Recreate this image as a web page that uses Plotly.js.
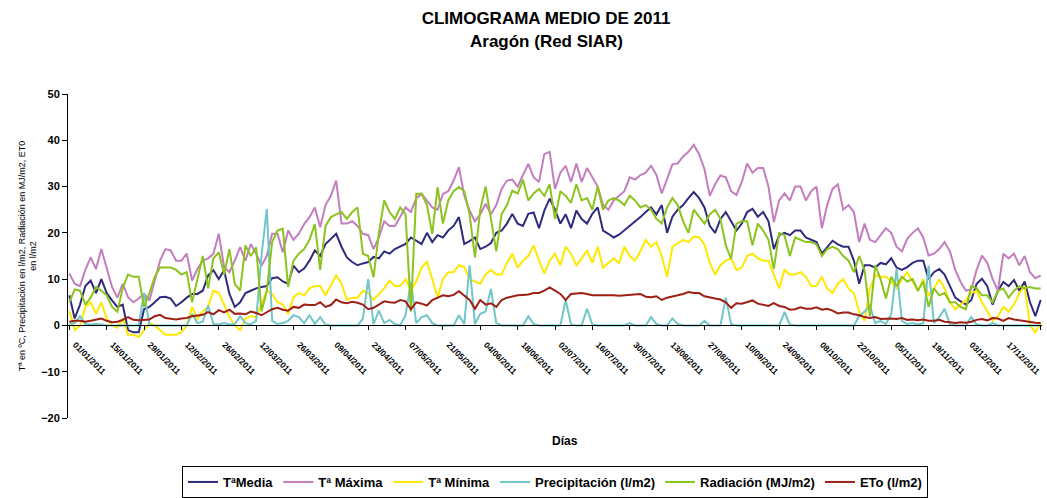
<!DOCTYPE html>
<html>
<head>
<meta charset="utf-8">
<script src="https://cdn.plot.ly/plotly-3.0.1.min.js"></script>
<style>
  html, body { margin: 0; padding: 0; background: #fff; }
  #chart { width: 1047px; height: 498px; }
</style>
</head>
<body>
<div id="chart"></div>
<script>
// valores medios de la red SIAR, uno cada 2 días desde el 01/01/2011
const tMedia = [
  6.5, 1.5, 4.5, 8.5, 9.7, 7, 10, 7, 5.4, 4,
  4.5, -1, -1.5, -1.5, 3.5, 4, 5, 6.1, 6.2, 5.8,
  4.2, 5, 6, 6.8, 6.8, 7.5, 10.8, 11.9, 10, 11.9,
  6.8, 4, 5, 7, 7.5, 8, 8.3, 8.5, 10.2, 10.4,
  9.5, 9, 12.9, 11.5, 12.3, 14, 16.2, 15, 17.6, 18.7,
  19.8, 17, 14.7, 13.7, 13, 13.4, 13.7, 14.8, 14.5, 16,
  15.5, 16.5, 17, 17.6, 19, 18.3, 17.6, 20, 18, 19.5,
  19, 20.5, 21.5, 23.4, 17.6, 18.2, 19, 16.5, 17, 17.8,
  20, 20.5, 22, 24.1, 22, 21.5, 24.1, 24.4, 21, 24.8,
  27.4, 25, 22, 24, 21, 24.8, 23, 22, 24.1, 25.5,
  20.5, 19.8, 19, 19.6, 20.5, 21.4, 22.5, 23.4, 24.5, 25.5,
  24, 26, 20, 23.5, 25, 26, 27.5, 28.8, 27.5, 25.5,
  21.5, 20, 23, 24.5, 22.5, 20.5, 22, 24.5, 25.2, 23.5,
  24.5, 22.5, 16.5, 19.5, 20, 19.5, 20.5, 20.5, 19, 18.5,
  18, 15.5, 17, 18.3, 17.5, 17, 17, 14, 9, 13,
  13, 12.5, 13.5, 13.2, 14.5, 12.5, 12, 12.6, 13.5, 14,
  14, 10, 11.5, 12.2, 11, 8.5, 6, 5.2, 4.5, 5.5,
  9, 10.1, 8.5, 4.5, 7.5, 9.4, 8.5, 9.8, 7.5, 9.5,
  5, 2, 5.5
];
const tMaxima = [
  11.2, 9, 8.5, 12, 14.7, 12.2, 16.5, 12.6, 8.3, 6,
  9, 6.1, 5, 5.8, 6.8, 5.4, 9.7, 14, 16.5, 16.2,
  14, 14, 15.5, 9.7, 12.2, 14, 14.5, 15.5, 19.8, 12.6,
  11.5, 14, 16.9, 14, 17.6, 15.5, 12.9, 15, 19.8, 19.8,
  15.8, 20.5, 18.5, 19.8, 21.9, 23.4, 25.5, 21.2, 26, 28,
  31.3, 22, 22, 22.5, 21.5, 19.8, 19.5, 16.5, 19, 22.5,
  21.5, 21.5, 23.5, 25.5, 24.5, 27.5, 28.4, 27, 25.5, 25,
  28.4, 29, 31.3, 34.2, 28, 24.8, 22.5, 24, 26.3, 24,
  26, 29.5, 31.3, 31.5, 30, 32.5, 34.9, 32, 31, 37,
  37.5, 29.5, 33, 34.5, 31, 35, 31, 34, 32, 30,
  26, 25, 27, 28, 29, 32, 31.5, 32.5, 33, 34.5,
  32.5, 28.5, 31.5, 34.8, 35, 36.5, 37.5, 39, 37, 33.8,
  28, 30.5, 32.4, 32, 29, 28.2, 31, 35, 33, 34,
  34, 30, 22.3, 27, 28.5, 27, 30, 30, 27, 29,
  30, 21, 26, 29.5, 30.5, 25, 26, 24.5, 18, 22,
  18.5, 18, 19.5, 21, 20, 17, 16, 18.7, 20, 21,
  19, 15.1, 15.5, 16.5, 18, 16, 12, 9.4, 7.5, 7.8,
  12, 15.1, 13.5, 10, 7.5, 15.5, 14.5, 15.5, 13, 15,
  11.5, 10.2, 10.8
];
const tMinima = [
  3.2, -1, 0, 4, 5, 2.5, 5, 1.5, 0, -0.5,
  1.5, -2, -2, -2.5, -1, 0.5, 0, -1, -2, -2,
  -2, -1.5, 0, 4, 1.5, 3, 4, 7.5, 7, 4.5,
  1.8, 0, -1, 1.5, 2, 1.8, 4.5, 7.5, 6.8, 5,
  4.5, 2.5, 6.1, 7, 6.5, 8, 8.5, 8.5, 6.5, 8.5,
  10.8, 9, 5.5, 6, 6, 7.5, 7, 5.5, 6.8, 8,
  9.7, 8.5, 8.5, 10, 7.5, 9.5, 12.5, 13.7, 10, 6.1,
  10, 11.5, 11.5, 13, 12.6, 10, 9.5, 9, 11, 12,
  11, 11, 13.5, 15.5, 12.5, 14, 15, 17.3, 14, 11.2,
  14, 15.5, 13, 17, 15.5, 13, 14.5, 16.2, 13.5, 17,
  12.5, 13.5, 14.5, 13.5, 17, 15, 14, 16, 18.5, 17,
  18, 15, 10.5, 17, 17.8, 18.5, 18, 19.2, 19, 17.5,
  13.5, 11, 13, 14, 14.5, 12, 12.5, 15, 15.5, 14.5,
  14, 14, 11, 8, 12, 11, 11, 11.5, 10.5, 8.5,
  8.5, 10.5, 8, 7, 9, 10, 8, 7, 3, 1,
  8, 10.8, 10.5, 10.5, 9.5, 8, 10, 11.5, 9.5, 7.5,
  10, 6.5, 8, 10, 8, 5, 3.5, 4.5, 5.5, 7,
  7.5, 5, 3, 1, 2, 4, 3, 4.5, 7, 8.5,
  0, -1.5, 0.5
];
const precipitacion = [
  0.3, 0.5, 2, 0.3, 0.2, 0.3, 0.2, 0, 0, 0,
  0, 0, 0, 0, 7, 0.1, 0, 0, 0, 0,
  0, 0, 0, 2.5, 0.5, 0.8, 4.3, 0.3, 0.2, 0.5,
  0.2, 0.3, 2, 0.5, 0.2, 1, 15, 25.2, 1, 0.3,
  0.5, 1, 2.2, 1.8, 0.5, 2.2, 0.3, 1.8, 0.2, 0,
  0, 0, 0, 0, 0, 1.4, 10, 0.3, 3.2, 0.5,
  1.2, 0.3, 0, 2.2, 9.4, 0.5, 1.8, 2.2, 0.5, 0,
  0, 0, 0, 2.2, 0.3, 13, 0.3, 2.5, 3, 7.9,
  0.5, 0, 0, 0, 0, 0, 2, 0.3, 0, 0,
  0, 0, 0, 5.5, 0.2, 0, 0, 3.6, 0.2, 0,
  0, 0, 0, 0, 0, 0.5, 0, 0, 0, 1.8,
  0.3, 0, 0, 1.5, 0.3, 0, 0, 0, 0, 1,
  0, 0, 0, 6, 0.3, 0, 0, 0, 0, 0,
  0, 0, 0, 0, 2.9, 0.2, 0, 0, 0, 0,
  0, 0, 0, 0, 0, 0, 0, 0, 2, 3,
  4.3, 0.5, 1, 0.3, 2.5, 12.2, 1, 0.3, 0.5, 0.2,
  0.5, 12.9, 0.5, 1.8, 3.6, 0.2, 0, 0, 0, 1.8,
  0.2, 0, 0, 0.5, 0, 0, 0, 0, 0, 0,
  0, 0, 0
];
const radiacion = [
  5, 7.8, 7.5, 4.5, 6, 8.3, 7.5, 6.5, 4, 3,
  8, 11, 10.5, 10.5, 4, 7, 10.5, 12.5, 12.5, 12.5,
  12, 11, 11.5, 5, 10, 15, 8, 14.5, 15.8, 11,
  16.5, 9, 7.5, 17.3, 15, 16.9, 3, 7.5, 18, 20.5,
  20.9, 8.3, 14, 15.5, 16.5, 18.5, 21.9, 12, 21.5, 23.4,
  24, 24.5, 23, 24.5, 25.5, 15.5, 15, 10.4, 20, 27,
  24.5, 23, 25.5, 24, 3, 28.4, 28.5, 26, 19.8, 29.9,
  22, 27, 29, 29.9, 29, 24, 14.7, 25, 30, 22.5,
  16, 24, 26, 29.1, 28.5, 31.5, 27, 28.5, 29.5, 28,
  30.5, 23, 29, 28, 26.5, 30.5, 27, 27.5, 25, 30,
  25, 27, 27.5, 27, 26, 28, 27, 25.5, 26, 25,
  23, 22, 25.5, 27.5, 26, 22.5, 20, 25, 23.5, 22,
  24, 25, 23, 17.3, 14.4, 22, 22.5, 22.5, 17.3, 22,
  20.5, 18.5, 12.2, 20, 19.5, 15, 19, 18.5, 18, 18,
  17.5, 15, 16.5, 17, 16.5, 15, 14, 11.5, 15, 12,
  2, 13, 10, 5.8, 10.5, 8.5, 10.5, 9.5, 10, 7.5,
  9.5, 4, 8, 6.5, 7, 5, 5, 4, 3.5, 8.5,
  8, 6.5, 6.5, 5, 7.5, 8, 6, 7.5, 8.5, 8,
  8.3, 8, 8
];
const eto = [
  0.8, 1, 1, 0.8, 1, 1.2, 1.5, 1, 0.7, 0.8,
  1.2, 1.8, 1.2, 1.1, 1.2, 1.3, 2, 2.3, 1.6, 1.4,
  1.3, 1.5, 1.6, 2, 2.2, 2.3, 2.9, 2.4, 3.3, 2.8,
  3.4, 2.5, 2.6, 2.4, 3, 2.7, 2.2, 2.8, 3.5, 3.8,
  3.4, 3.2, 4, 3.8, 4.5, 4.4, 4.4, 5, 4, 4.4,
  5.6, 5, 4.8, 5.1, 4.9, 4.5, 3.5, 3.8, 4.5, 5.2,
  5, 4.9, 5.5, 5.2, 3.5, 5, 4.7, 4.3, 5.5, 6,
  6.5, 6.3, 6.6, 7.4, 6.5, 5.5, 3.6, 5.5, 4.5, 4.8,
  4, 5.5, 6, 6.3, 6.5, 6.6, 6.7, 7, 7, 7.5,
  8.2, 7.5, 6.8, 5.5, 6.8, 6.9, 7, 6.8, 6.5, 6.5,
  6.5, 6.6, 6.5, 6.4, 6.5, 6.5, 6.7, 6.8, 6.2, 6.1,
  6.3, 5.5, 6, 6.2, 6.5, 6.8, 7.2, 7, 7, 6.3,
  6, 5.8, 5.6, 5, 3.8, 4.8, 4.7, 5, 5.4, 4.7,
  4.4, 4.2, 4.8, 4.2, 4, 3.4, 3.5, 3.9, 3.6, 3.6,
  3.9, 3.4, 3.6, 3.2, 2.6, 2.8, 2.8, 2.4, 2.2, 1.8,
  1.6, 1.8, 1.4, 1.5, 1.5, 1.4, 1.6, 1.2, 1.3, 1.1,
  1.3, 1, 1, 1.2, 0.8, 0.7, 0.5, 0.7, 0.6, 0.8,
  1.2, 1.4, 1.1, 1.6, 1.5, 1, 1.6, 1.3, 1.1, 0.9,
  0.8, 0.6, 0.5
];

// fechas de cada valor (paso de 2 días)
const fechas = tMedia.map((_, i) =>
  new Date(Date.UTC(2011, 0, 1 + 2 * i)).toISOString().slice(0, 10));

// lineas de division solo en la parte positiva
const rejilla = [10, 20, 30, 40, 50];

const FONT = 'Liberation Sans, Arial, sans-serif';

function serie(name, y, color) {
  return {
    x: fechas, y: y, name: name,
    type: 'scatter', mode: 'lines',
    line: {color: color, width: 2},
  };
}

const data = [
  serie('TªMedia', tMedia, '#2E2B7C'),
  serie('Tª Máxima', tMaxima, '#C27EBE'),
  serie('Tª Mínima', tMinima, '#FFE800'),
  serie('Precipitación (l/m2)', precipitacion, '#70C6C8'),
  serie('Radiación (MJ/m2)', radiacion, '#8CC31E'),
  serie('ETo (l/m2)', eto, '#9E1F14'),
];

const layout = {
  width: 1047, height: 498,
  margin: {l: 68, r: 5, t: 94, b: 80},
  paper_bgcolor: '#fff', plot_bgcolor: '#fff',
  font: {family: FONT, color: '#000'},
  title: {
    text: 'CLIMOGRAMA MEDIO DE 2011',
    font: {size: 17, weight: 'bold'},
    x: 0.5215, xanchor: 'center',
    yref: 'container', y: 1 - 18 / 498, yanchor: 'middle',
  },
  showlegend: true,
  legend: {
    orientation: 'h', x: 0.5, xanchor: 'center',
    yref: 'container', y: 32 / 498, yanchor: 'top',
    bordercolor: '#000', borderwidth: 1,
    font: {size: 13, weight: 'bold'},
  },
  xaxis: {
    type: 'date',
    range: ['2010-12-31 12:00', '2011-12-31 12:00'],
    tick0: '2011-01-01', dtick: 14 * 86400000,
    tickformat: '%d/%m/%Y', tickangle: 45,
    tickfont: {size: 8.5, weight: 'bold'},
    ticklabelstandoff: 6, ticklabelshift: 6,
    anchor: 'free', position: 20 / 70,
    showline: true, linecolor: '#000', linewidth: 1,
    ticks: 'outside', ticklen: 4, tickcolor: '#000',
    showgrid: false, zeroline: false,
  },
  yaxis: {
    range: [-20, 50], dtick: 10,
    showline: true, linecolor: '#000', linewidth: 1,
    ticks: 'outside', ticklen: 5, tickcolor: '#000',
    tickfont: {size: 11, weight: 'bold'},
    showgrid: false, zeroline: false,
    title: {
      text: 'Tª en ºC, Precipitación en l/m2, Radiación en MJ/m2, ET0<br>en l/m2',
      font: {size: 9}, standoff: 2,
    },
  },
  yaxis2: {
    overlaying: 'y', side: 'left',
    range: [-20, 50], tickvals: rejilla,
    showticklabels: false, ticks: '',
    showgrid: true, gridcolor: '#505050', gridwidth: 1,
    showline: false, zeroline: false,
  },
  annotations: [
    {
      text: 'Aragón (Red SIAR)', showarrow: false,
      xref: 'paper', yref: 'paper', x: 0.4908, y: 1.1605,
      xanchor: 'center', yanchor: 'middle',
      font: {size: 17, weight: 'bold'},
    },
    {
      text: 'Días', showarrow: false,
      xref: 'paper', yref: 'paper', x: 0.5103, y: -0.071,
      xanchor: 'center', yanchor: 'middle',
      font: {size: 12, weight: 'bold'},
    },
  ],
};

Plotly.newPlot('chart', data, layout, {displayModeBar: false, responsive: false});
</script>
</body>
</html>
